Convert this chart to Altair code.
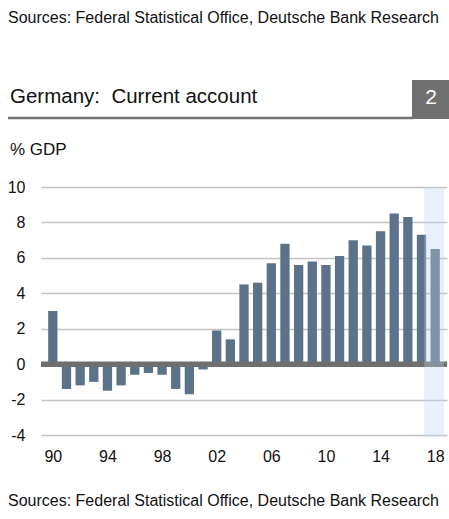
import altair as alt
import pandas as pd

years = list(range(1990, 2019))
values = [3.0, -1.4, -1.2, -1.0, -1.5, -1.2, -0.6, -0.5, -0.6, -1.4,
          -1.7, -0.3, 1.9, 1.4, 4.5, 4.6, 5.7, 6.8, 5.6, 5.8,
          5.6, 6.1, 7.0, 6.7, 7.5, 8.5, 8.3, 7.3, 6.5]
x_ticks = [1990, 1994, 1998, 2002, 2006, 2010, 2014, 2018]
y_ticks = [-4, -2, 0, 2, 4, 6, 8, 10]
forecast_start = [2017.2]
forecast_end = [2018.65]

source_text = "Sources: Federal Statistical Office, Deutsche Bank Research"
title_text = "Germany:\u00a0\u00a0Current account"
unit_text = "% GDP"
chart_no = "2"

FONT = "Liberation Sans"
df = pd.DataFrame({"year": years, "value": values})
shade_df = pd.DataFrame({"x": forecast_start, "x2": forecast_end})

xscale = alt.Scale(domain=[1989.5, 2018.5], nice=False, zero=False)
yscale = alt.Scale(domain=[-4, 10], nice=False)

xaxis = alt.Axis(values=x_ticks, title=None, grid=False, ticks=False, domain=False,
                 labelExpr="(datum.value % 100) < 10 ? '0' + (datum.value % 100) : '' + (datum.value % 100)",
                 labelFontSize=16, labelFont=FONT, labelColor="#111111",
                 labelPadding=13, labelFlush=False, labelOverlap=False)
yaxis = alt.Axis(values=y_ticks, title=None, ticks=False, domain=False,
                 gridColor="#c4c4c4", gridWidth=1.5,
                 labelExpr="datum.value < 0 ? '-' + abs(datum.value) : '' + datum.value",
                 labelFontSize=16, labelFont=FONT, labelColor="#111111",
                 labelPadding=16, labelOverlap=False)

bars = alt.Chart(df).mark_bar(color="#5b7289", size=9.3).encode(
    x=alt.X("year:Q", scale=xscale, axis=xaxis),
    y=alt.Y("value:Q", scale=yscale, axis=yaxis),
)

zero = alt.Chart(pd.DataFrame({"y": [0]})).mark_rule(color="#6e6e6e", strokeWidth=5.5).encode(
    y=alt.Y("y:Q", scale=yscale, axis=yaxis)
)

shade = alt.Chart(shade_df).mark_rect(color="#bcd4ee", opacity=0.35, clip=False).encode(
    x=alt.X("x:Q", scale=xscale, axis=xaxis),
    x2="x2:Q",
    y=alt.value(0),
    y2=alt.value(250),
)

def txt(text, x, y, size, color="#111111", align="left"):
    return alt.Chart(pd.DataFrame({"t": [text]})).mark_text(
        font=FONT, fontSize=size, color=color, align=align, baseline="middle"
    ).encode(text="t:N", x=alt.value(x), y=alt.value(y))

top_src = txt(source_text, -33, -169, 16)
title = txt(title_text, -31, -90, 20.5)
unit = txt(unit_text, -31, -37, 17)
bottom_src = txt(source_text, -33, 314, 16)

underline = alt.Chart(pd.DataFrame({"a": [0]})).mark_rule(color="#707070", strokeWidth=2.5).encode(
    x=alt.value(-33), x2=alt.value(372), y=alt.value(-69)
)
box = alt.Chart(pd.DataFrame({"a": [0]})).mark_rect(color="#707070").encode(
    x=alt.value(371), x2=alt.value(410), y=alt.value(-107), y2=alt.value(-68)
)
num = txt(chart_no, 390, -89, 21, color="#ffffff", align="center")

chart = alt.layer(
    bars, zero, shade, top_src, title, underline, box, num, unit, bottom_src
).properties(
    width=406, height=248,
    autosize=alt.AutoSizeParams(type="none"),
    padding={"left": 41, "top": 187, "right": 2, "bottom": 84},
    background="white",
).configure_view(stroke=None)

chart.save("out.html", embed_options={"renderer": "svg", "actions": False})
